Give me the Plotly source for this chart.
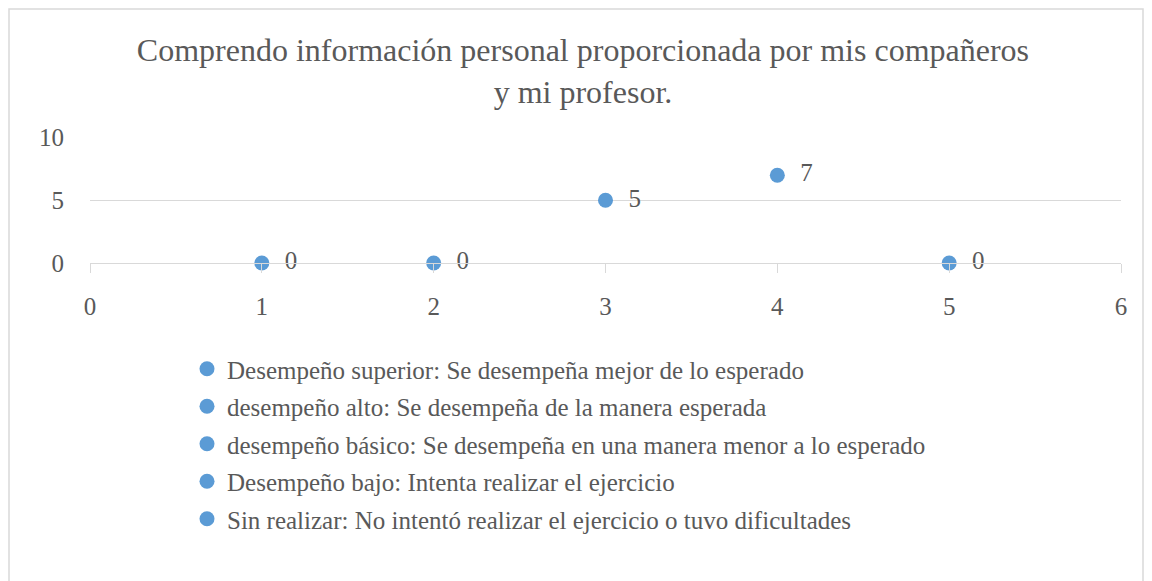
import plotly.graph_objects as go

# Reference data
names = [
    "Desempeño superior: Se desempeña mejor de lo esperado",
    "desempeño alto: Se desempeña de la manera esperada",
    "desempeño básico: Se desempeña en una manera menor a lo esperado",
    "Desempeño bajo: Intenta realizar el ejercicio",
    "Sin realizar: No intentó realizar el ejercicio o tuvo dificultades",
]
x_vals = [1, 2, 3, 4, 5]
y_vals = [0, 0, 5, 7, 0]

BLUE = "#5B9BD5"
GREY = "#595959"
LINE = "#D9D9D9"
FONT = "Liberation Serif"

# page has an 8px body margin, so the figure is a bit smaller than the window
W, H = 1144, 573
L, R, T, B = 82, 31, 129, 318

fig = go.Figure()
for i, (name, xv, yv) in enumerate(zip(names, x_vals, y_vals)):
    fig.add_trace(go.Scatter(
        x=[xv], y=[yv], name=name, mode="markers+text",
        text=[yv], texttemplate="  %{text}", textposition="middle right",
        textfont=dict(family=FONT, size=25, color=GREY),
        marker=dict(color=BLUE, size=15),
        cliponaxis=False, legendgroup=f"g{i}",
    ))

# light frame around the chart area (Excel-style border)
pw, ph = W - L - R, H - T - B
fig.add_shape(
    type="rect", xref="paper", yref="paper",
    x0=(1 - L) / pw, x1=(1135 - L) / pw,
    y0=(H - B - 600) / ph, y1=(H - B - 1) / ph,
    line=dict(color=LINE, width=1.5), layer="below",
)

fig.update_xaxes(
    range=[0, 6], dtick=1, showgrid=False, showline=True, linecolor=LINE,
    ticks="outside", ticklen=9, tickcolor=LINE, zeroline=False,
    ticklabelstandoff=12,
    tickfont=dict(family=FONT, size=25, color=GREY),
)
fig.update_yaxes(
    range=[0, 10.05], tickvals=[0, 5, 10], showgrid=True, gridcolor=LINE,
    showline=False, zeroline=False, ticks="", ticklabelstandoff=25,
    tickfont=dict(family=FONT, size=25, color=GREY),
)

fig.update_layout(
    width=W, height=H,
    margin=dict(l=L, r=R, t=T, b=B),
    paper_bgcolor="white", plot_bgcolor="white",
    title=dict(
        text="Comprendo información personal proporcionada por mis compañeros<br>y mi profesor.",
        x=0.5026, xanchor="center", y=1 - 53 / H, yanchor="middle",
        font=dict(family=FONT, size=32, color=GREY),
    ),
    legend=dict(
        x=(179 - L) / pw, xanchor="left", y=-0.659, yanchor="top",
        font=dict(family=FONT, size=25, color=GREY),
        tracegroupgap=2, itemwidth=30,
    ),
    showlegend=True,
)

fig.write_html("out.html")
